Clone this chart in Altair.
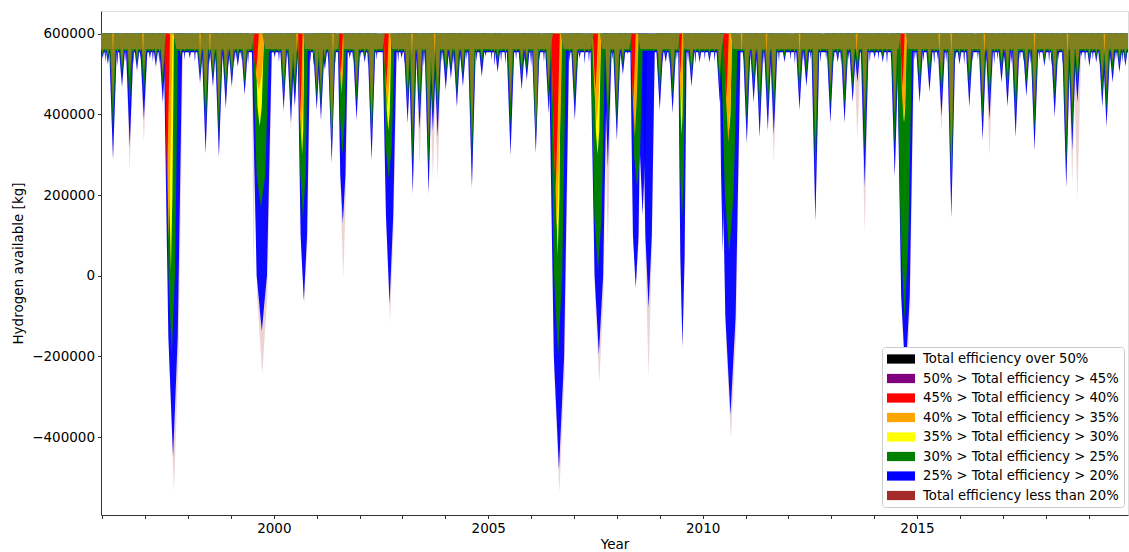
import altair as alt
import pandas as pd

FONT = "DejaVu Sans"

TIERS = [
    "Total efficiency over 50%",
    "50% > Total efficiency > 45%",
    "45% > Total efficiency > 40%",
    "40% > Total efficiency > 35%",
    "35% > Total efficiency > 30%",
    "30% > Total efficiency > 25%",
    "25% > Total efficiency > 20%",
    "Total efficiency less than 20%",
]
TIER_COLORS = ["#000000", "#800080", "#ff0000", "#ffa500", "#ffff00", "#008000", "#0000ff", "#a52a2a"]

X_START, X_END = 1995.97, 2019.92
TOP = 600000
OLIVE_BASE, GREEN_BASE, BLUE_BASE = 562000, 558000, 554000

# small dips: year and minimum (thousand kg) of each visible tier
SMALL_YEARS = [
    1996.01, 1996.13, 1996.25, 1996.46, 1996.64, 1996.81, 1996.97, 1997.11, 1997.25, 1997.41,
    1997.83, 1998.04, 1998.28, 1998.41, 1998.58, 1998.72, 1998.88, 1999.02, 1999.16, 1999.32,
    2000.02, 2000.23, 2000.40, 2000.49, 2001.00, 2001.10, 2001.19, 2001.35, 2001.77, 2001.93,
    2002.12, 2002.28, 2002.98, 2003.12, 2003.24, 2003.40, 2003.61, 2003.71, 2003.82, 2004.01,
    2004.13, 2004.27, 2004.41, 2004.62, 2004.85, 2004.94, 2005.22, 2005.52, 2005.78, 2005.90,
    2006.11, 2006.41, 2007.02, 2007.13, 2007.79, 2008.00, 2008.14, 2008.25, 2009.00, 2009.14,
    2009.30, 2009.74, 2009.93, 2010.16, 2010.40, 2011.03, 2011.19, 2011.33, 2011.52, 2011.66,
    2011.91, 2012.26, 2012.42, 2012.63, 2012.98, 2013.15, 2013.31, 2013.50, 2013.61, 2013.78,
    2014.01, 2014.20, 2014.48, 2015.06, 2015.29, 2015.57, 2015.80, 2015.99, 2016.22, 2016.53,
    2016.69, 2016.97, 2017.11, 2017.30, 2017.55, 2017.74, 2017.97, 2018.21, 2018.48, 2018.62,
    2018.74, 2018.83, 2019.02, 2019.18, 2019.32, 2019.42, 2019.56, 2019.72, 2019.86,
]
SMALL_OLIVE = [
    550, 545, 420, 520, 490, 540, 500, 560, 545, 500,
    550, 560, 520, 420, 510, 400, 480, 510, 550, 500,
    560, 480, 460, 490, 470, 460, 540, 340, 560, 470,
    550, 380, 560, 460, 350, 450, 330, 440, 430, 520,
    530, 490, 520, 340, 540, 565, 545, 430, 520, 535,
    360, 470, 470, 560, 420, 430, 540, 570, 490, 560,
    490, 520, 555, 555, 500, 440, 500, 450, 460, 450,
    555, 490, 530, 330, 470, 555, 470, 500, 530, 400,
    560, 555, 400, 500, 520, 480, 262, 550, 500, 440,
    470, 530, 500, 450, 510, 420, 545, 480, 350, 420,
    500, 565, 545, 550, 490, 460, 530, 540, 545,
]
SMALL_GREEN = [
    545, 535, 360, 500, 420, 525, 450, 550, 535, 470,
    540, 550, 500, 360, 490, 350, 450, 490, 535, 475,
    550, 440, 420, 455, 440, 420, 525, 310, 550, 430,
    540, 330, 550, 420, 280, 400, 270, 400, 390, 490,
    510, 450, 495, 280, 520, 555, 525, 370, 490, 510,
    330, 440, 430, 550, 350, 380, 520, 560, 450, 545,
    445, 495, 540, 540, 465, 380, 465, 395, 410, 400,
    540, 450, 500, 240, 420, 540, 420, 465, 505, 310,
    550, 540, 320, 465, 490, 440, 220, 535, 460, 390,
    430, 505, 460, 395, 475, 360, 530, 440, 280, 360,
    470, 555, 530, 540, 450, 410, 505, 520, 530,
]
SMALL_BLUE = [
    540, 525, 290, 470, 320, 510, 387, 540, 520, 430,
    525, 540, 480, 305, 470, 295, 417, 470, 520, 450,
    542, 412, 380, 420, 412, 387, 512, 280, 540, 387,
    530, 287, 540, 380, 205, 362, 205, 357, 345, 462,
    490, 420, 470, 220, 495, 545, 505, 300, 462, 487,
    305, 405, 387, 540, 270, 337, 500, 550, 412, 530,
    405, 470, 530, 530, 430, 330, 430, 345, 362, 350,
    530, 412, 470, 137, 380, 530, 380, 430, 480, 220,
    540, 530, 245, 430, 457, 395, 145, 525, 420, 337,
    387, 480, 420, 345, 445, 312, 520, 395, 220, 312,
    430, 545, 520, 530, 420, 370, 480, 505, 520,
]
SMALL_BROWN = [
    535, 520, 280, 460, 262, 500, 330, 535, 510, 420,
    520, 535, 470, 295, 460, 285, 410, 460, 515, 440,
    535, 400, 360, 410, 405, 380, 505, 275, 535, 380,
    525, 280, 535, 370, 195, 270, 195, 237, 237, 455,
    485, 410, 465, 210, 490, 540, 500, 290, 455, 480,
    300, 400, 380, 535, 70, 330, 495, 545, 405, 525,
    400, 465, 525, 525, 425, 320, 425, 340, 350, 280,
    525, 405, 465, 130, 375, 525, 375, 425, 340, 105,
    535, 525, 240, 425, 450, 355, 140, 520, 415, 330,
    295, 475, 415, 340, 440, 305, 515, 390, 215, 230,
    187, 540, 515, 525, 415, 365, 475, 500, 515,
]

# shallow ripples along the lower edge of the top band (thousand kg)
RIPPLE_YEARS = [
    1996.07, 1996.19, 1996.35, 1996.55, 1996.72, 1996.89, 1997.04, 1997.18, 1997.33, 1997.92,
    1998.16, 1998.35, 1998.50, 1998.65, 1998.80, 1998.95, 1999.09, 1999.24, 1999.40, 2000.12,
    2000.31, 2000.85, 2000.93, 2001.05, 2001.27, 2001.43, 2001.85, 2002.02, 2002.20, 2002.40,
    2002.90, 2003.05, 2003.18, 2003.32, 2003.50, 2003.92, 2004.07, 2004.20, 2004.34, 2004.50,
    2004.73, 2005.08, 2005.15, 2005.30, 2005.40, 2005.65, 2005.84, 2006.00, 2006.20, 2006.30,
    2006.90, 2007.08, 2007.25, 2007.35, 2007.90, 2008.07, 2008.95, 2009.07, 2009.22, 2009.40,
    2009.66, 2009.83, 2010.05, 2010.28, 2010.95, 2011.10, 2011.26, 2011.43, 2011.59, 2011.78,
    2012.05, 2012.15, 2012.34, 2012.52, 2012.75, 2012.88, 2013.06, 2013.23, 2013.40, 2013.90,
    2014.10, 2014.30, 2014.40, 2014.95, 2015.15, 2015.40, 2015.48, 2015.68, 2015.90, 2016.10,
    2016.30, 2016.42, 2016.61, 2016.80, 2016.88, 2017.04, 2017.20, 2017.40, 2017.48, 2017.64,
    2017.85, 2018.08, 2018.14, 2018.30, 2018.40, 2018.92, 2019.10, 2019.25, 2019.50, 2019.64,
    2019.79,
]
RIPPLE_BLUE = [
    530, 535, 520, 530, 525, 535, 540, 530, 525, 535,
    530, 540, 525, 530, 535, 520, 530, 535, 525, 530,
    540, 530, 520, 535, 530, 525, 530, 540, 520, 535,
    530, 525, 540, 530, 520, 530, 540, 525, 530, 535,
    530, 535, 520, 530, 525, 535, 530, 520, 535, 530,
    530, 535, 525, 530, 535, 530, 535, 530, 525, 535,
    530, 525, 535, 530, 535, 520, 530, 525, 535, 530,
    535, 525, 530, 535, 530, 535, 530, 525, 535, 530,
    535, 525, 530, 535, 530, 525, 535, 530, 535, 525,
    530, 535, 530, 525, 535, 530, 525, 535, 530, 525,
    535, 530, 520, 535, 525, 530, 535, 525, 530, 535,
    530,
]
RIPPLE_OLIVE = [
    548, 550, 542, 548, 545, 552, 555, 548, 545, 552,
    548, 555, 545, 548, 552, 542, 548, 552, 545, 548,
    555, 548, 542, 552, 548, 545, 548, 555, 542, 552,
    548, 545, 555, 548, 542, 548, 555, 545, 548, 552,
    548, 552, 542, 548, 545, 552, 548, 542, 552, 548,
    548, 552, 545, 548, 552, 548, 552, 548, 545, 552,
    548, 545, 552, 548, 552, 542, 548, 545, 552, 548,
    552, 545, 548, 552, 548, 552, 548, 545, 552, 548,
    552, 545, 548, 552, 548, 545, 552, 548, 552, 545,
    548, 552, 548, 545, 552, 548, 545, 552, 548, 545,
    552, 548, 542, 552, 545, 548, 552, 545, 548, 552,
    548,
]

# thin orange streaks seen inside the top band (year)
ORANGE_STREAKS = [
    1996.25, 1996.95, 1998.28, 1998.51, 2000.54, 2001.38, 2003.22, 2003.75, 2010.91,
    2011.49, 2012.26, 2013.59, 2015.52, 2015.80, 2016.57, 2017.74, 2018.51, 2019.37,
]
STREAK_DEPTH = 545000

# big dips per tier: (centre year, half width in years, value part-way down, minimum)
BIG_RED = [
    (1997.51, 0.07, 420000, 220000), (1999.58, 0.07, 540000, 500000),
    (2000.62, 0.05, 480000, 400000), (2001.56, 0.05, 540000, 500000),
    (2002.62, 0.06, 520000, 470000), (2006.57, 0.10, 380000, 200000),
    (2007.50, 0.06, 520000, 460000), (2008.38, 0.06, 500000, 430000),
    (2009.48, 0.04, 540000, 500000), (2010.55, 0.06, 500000, 440000),
    (2014.66, 0.05, 520000, 470000),
]
BIG_ORANGE = [
    (1997.55, 0.09, 330000, 90000), (1999.65, 0.14, 500000, 460000),
    (2000.64, 0.07, 420000, 330000), (2001.58, 0.06, 500000, 450000),
    (2002.65, 0.09, 480000, 420000), (2006.60, 0.13, 320000, 120000),
    (2007.53, 0.11, 460000, 380000), (2008.42, 0.09, 440000, 345000),
    (2009.50, 0.06, 480000, 420000), (2010.60, 0.10, 430000, 330000),
    (2014.69, 0.08, 450000, 380000), (2015.79, 0.04, 560000, 520000),
]
BIG_YELLOW = [
    (1997.60, 0.07, 200000, 10000), (1999.67, 0.10, 420000, 370000),
    (2000.66, 0.05, 360000, 300000), (2002.67, 0.07, 410000, 360000),
    (2006.62, 0.08, 200000, 50000), (2007.55, 0.08, 360000, 300000),
    (2009.51, 0.04, 400000, 350000), (2010.62, 0.06, 400000, 360000),
    (2014.70, 0.05, 420000, 380000),
]
BIG_GREEN = [
    (1997.62, 0.15, 0, -195000), (1999.70, 0.20, 250000, 170000),
    (2000.68, 0.12, 250000, 140000), (2001.60, 0.10, 380000, 300000),
    (2002.68, 0.14, 320000, 240000), (2006.63, 0.19, 0, -195000),
    (2007.56, 0.17, 150000, 12000), (2008.47, 0.14, 300000, 220000),
    (2009.52, 0.08, 250000, 137000), (2010.62, 0.20, 200000, 55000),
    (2014.71, 0.18, 100000, -110000),
]
BIG_BLUE = [
    (1997.65, 0.22, -150000, -450000), (1999.72, 0.24, 0, -137000),
    (2000.70, 0.15, 100000, -62000), (2001.61, 0.12, 250000, 130000),
    (2002.70, 0.17, 150000, -70000), (2006.65, 0.24, -200000, -480000),
    (2007.58, 0.20, 0, -195000), (2008.44, 0.13, 100000, -30000),
    (2008.60, 0.12, 300000, 150000), (2008.74, 0.15, 100000, -80000),
    (2009.53, 0.10, 50000, -175000), (2010.47, 0.08, 250000, 60000),
    (2010.65, 0.24, -100000, -345000), (2014.73, 0.20, -50000, -250000),
]
BIG_BROWN = [
    (1997.67, 0.22, -200000, -537000), (1999.73, 0.24, -50000, -245000),
    (1999.53, 0.05, 300000, 0), (2000.71, 0.15, 80000, -70000),
    (2001.62, 0.12, 200000, -7000), (2002.71, 0.17, 120000, -117000),
    (2006.66, 0.24, -250000, -537000), (2007.59, 0.20, -50000, -267000),
    (2008.45, 0.13, 80000, -10000), (2008.74, 0.15, 50000, -250000),
    (2009.53, 0.10, 30000, -180000), (2010.66, 0.24, -150000, -405000),
    (2014.74, 0.20, -80000, -300000),
]
# where the olive top band gives way to the warm colours: (centre year, half width)
OLIVE_NOTCHES = [
    (1997.57, 0.16), (1999.64, 0.16), (2000.63, 0.10), (2001.57, 0.07),
    (2002.65, 0.11), (2006.60, 0.16), (2007.53, 0.13), (2008.42, 0.13),
    (2009.50, 0.07), (2010.58, 0.14), (2014.68, 0.11),
]

SMALL_HW = 0.1       # half width of a small dip, years
OLIVE_HW = 0.07
RIPPLE_HW = 0.045
STREAK_HW = 0.02
SHOULDER = 0.5
NOTCH_FLAT = 0.55

rows = []


def add(layer, gid, pts, tier=None):
    for x, y in pts:
        rows.append({"layer": layer, "g": gid, "x": x, "y": y, "top": TOP, "tier": tier})


def v3(c, hw, depth):
    return [(c - hw, TOP), (c, depth), (c + hw, TOP)]


def v5(c, hw, mid, depth):
    return [(c - hw, TOP), (c - SHOULDER * hw, mid), (c, depth),
            (c + SHOULDER * hw, mid), (c + hw, TOP)]


def add_small(layer, years, values, tier, hw, prefix):
    for i, (yr, v) in enumerate(zip(years, values)):
        add(layer, f"{prefix}{i}", v3(yr, hw, v * 1000), tier)


def add_big(layer, table, tier):
    for i, (c, hw, mid, depth) in enumerate(table):
        add(layer, f"b{i}", v5(c, hw, mid, depth), tier)


assert len(SMALL_YEARS) == len(SMALL_OLIVE) == len(SMALL_GREEN) == len(SMALL_BLUE) == len(SMALL_BROWN)
assert len(RIPPLE_YEARS) == len(RIPPLE_BLUE) == len(RIPPLE_OLIVE)

add_small("brown", SMALL_YEARS, SMALL_BROWN, TIERS[7], SMALL_HW, "s")
add_big("brown", BIG_BROWN, TIERS[7])
add("blueband", "band", [(X_START - 1, BLUE_BASE), (X_END + 1, BLUE_BASE)], TIERS[6])
add_small("blue", SMALL_YEARS, SMALL_BLUE, TIERS[6], SMALL_HW, "s")
add_small("blue", RIPPLE_YEARS, RIPPLE_BLUE, TIERS[6], RIPPLE_HW, "r")
add_big("blue", BIG_BLUE, TIERS[6])
add("greenband", "band", [(X_START - 1, GREEN_BASE), (X_END + 1, GREEN_BASE)], TIERS[5])
add_small("green", SMALL_YEARS, SMALL_GREEN, TIERS[5], 0.085, "s")
add_big("green", BIG_GREEN, TIERS[5])
add_big("yellow", BIG_YELLOW, TIERS[4])
add_big("orange", BIG_ORANGE, TIERS[3])
add_big("red", BIG_RED, TIERS[2])
band = [(X_START - 1, OLIVE_BASE)]
for c, hw in OLIVE_NOTCHES:
    band += [(c - hw, OLIVE_BASE), (c - NOTCH_FLAT * hw, TOP),
             (c + NOTCH_FLAT * hw, TOP), (c + hw, OLIVE_BASE)]
band += [(X_END + 1, OLIVE_BASE)]
add("oliveband", "band", band)
add_small("olive", SMALL_YEARS, SMALL_OLIVE, None, OLIVE_HW, "s")
add_small("olive", RIPPLE_YEARS, RIPPLE_OLIVE, None, RIPPLE_HW * 0.8, "r")
for i, yr in enumerate(ORANGE_STREAKS):
    add("streak", f"o{i}", v3(yr, STREAK_HW, STREAK_DEPTH), TIERS[3])

df = pd.DataFrame(rows)

XS = alt.Scale(domain=[X_START, X_END], nice=False, zero=False)
YS = alt.Scale(domain=[-593000, 656500], nice=False, zero=False)
CS = alt.Scale(domain=TIERS, range=TIER_COLORS)

XAX = alt.Axis(
    title="Year", values=list(range(1996, 2020)),
    labelExpr="datum.value % 5 == 0 ? format(datum.value, 'd') : ''",
    grid=False, tickSize=3.5, tickColor="#333", domainColor="#333",
    labelFont=FONT, labelFontSize=13.5, labelColor="black", labelPadding=3,
    labelOverlap=False, labelFlush=False,
    titleFont=FONT, titleFontSize=13.5, titleFontWeight="normal", titleColor="black",
    titlePadding=2,
)
YAX = alt.Axis(
    title="Hydrogen available [kg]", values=[-400000, -200000, 0, 200000, 400000, 600000],
    format="d", grid=False, tickSize=3.5, tickColor="#333", domainColor="#333",
    labelFont=FONT, labelFontSize=13.5, labelColor="black", labelPadding=3,
    labelOverlap=False,
    titleFont=FONT, titleFontSize=13.5, titleFontWeight="normal", titleColor="black",
    titlePadding=6,
)
LEG = alt.Legend(
    title=None, orient="none", legendX=781, legendY=336,
    symbolType="M-1,-0.66L3,-0.66L3,0.66L-1,0.66Z", symbolSize=196,
    symbolStrokeWidth=0, symbolOpacity=1,
    labelFont=FONT, labelFontSize=13.2, labelColor="black", labelOffset=22,
    labelLimit=0,
    rowPadding=5.5, padding=5, fillColor="white", strokeColor="#cccccc",
    cornerRadius=3,
)


def layer(name, color=None, opacity=1.0):
    d = df[df["layer"] == name]
    enc = dict(
        x=alt.X("x:Q", scale=XS, axis=XAX),
        y=alt.Y("y:Q", scale=YS, axis=YAX, stack=None),
        y2=alt.Y2("top:Q"),
        detail=alt.Detail("g:N"),
    )
    if color is None:
        enc["color"] = alt.Color("tier:N", scale=CS, legend=LEG)
    else:
        enc["color"] = alt.value(color)
    return alt.Chart(d).mark_area(opacity=opacity, clip=True, interpolate="linear").encode(**enc)


chart = alt.layer(
    layer("brown", opacity=0.2),
    layer("blueband"),
    layer("blue", opacity=0.95),
    layer("greenband"),
    layer("green"),
    layer("yellow"),
    layer("orange"),
    layer("red"),
    layer("oliveband", color="#80801f"),
    layer("olive", color="#80801f"),
    layer("streak", opacity=0.8),
).properties(
    width=1027, height=504, autosize="none",
    padding={"left": 101, "top": 11, "right": 1, "bottom": 37},
).configure_view(stroke="#333", strokeWidth=1).configure(background="white")

chart.save("out.html", embed_options={"renderer": "svg", "actions": False})
